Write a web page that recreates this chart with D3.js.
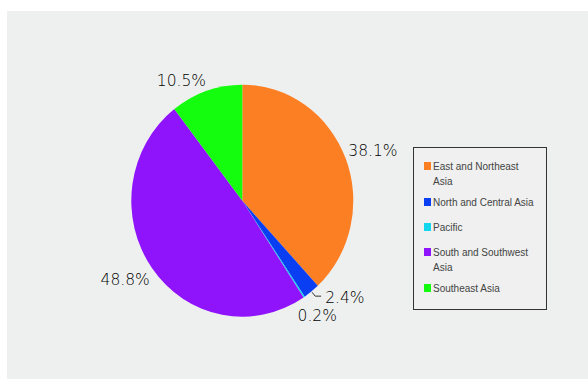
<!DOCTYPE html>
<html>
<head>
<meta charset="utf-8">
<script src="https://cdn.jsdelivr.net/npm/d3@7"></script>
<style>
  body { margin: 0; background: #fff; }
  svg { display: block; }
</style>
</head>
<body>
<div id="container"></div>
<script>
/* DATA */
const regions = ["East and Northeast Asia", "North and Central Asia", "Pacific", "South and Southwest Asia", "Southeast Asia"];
const shares = [38.1, 2.4, 0.2, 48.8, 10.5];
const colors = ["#fd7f23", "#0a3ef2", "#12d6ee", "#8f14fc", "#14fd0e"];
const legendLines = [["East and Northeast", "Asia"], ["North and Central Asia"], ["Pacific"], ["South and Southwest", "Asia"], ["Southeast Asia"]];

/* CONSTANTS */
const width = 588, height = 379;
const cx = 242.3, cy = 200.7, rx = 111, ry = 116;

const svg = d3.select("#container")
  .append("svg")
  .attr("width", width)
  .attr("height", height);

// panel background
svg.append("rect")
  .attr("x", 7).attr("y", 11)
  .attr("width", width - 7).attr("height", height - 11)
  .attr("fill", "#eef0ef");

const data = regions.map((r, i) => ({ region: r, value: shares[i], color: colors[i] }));

const pie = d3.pie().sort(null).value(d => d.value);
const arcs = pie(data);
const arc = d3.arc().innerRadius(0).outerRadius(rx);

// pie, slightly taller than wide
const g = svg.append("g")
  .attr("transform", `translate(${cx},${cy}) scale(1,${ry / rx})`);

g.selectAll("path.slice")
  .data(arcs)
  .join("path")
  .attr("class", "slice")
  .attr("d", arc)
  .attr("fill", d => d.data.color);

// labels
const mid = d => (d.startAngle + d.endAngle) / 2;
const labels = svg.append("g")
  .attr("font-family", "'DejaVu Sans', sans-serif")
  .attr("font-weight", 200)
  .attr("font-size", 15.5)
  .attr("fill", "#000");

arcs.forEach(d => {
  const a = mid(d);
  const s = Math.sin(a), c = Math.cos(a);
  const txt = d.data.value.toFixed(1) + "%";
  const t = labels.append("text")
    .attr("dy", "0.35em")
    .attr("text-anchor", "middle")
    .text(txt);
  const w = t.node().getComputedTextLength(), h = 14;
  if (d.data.region === "North and Central Asia") {
    // pulled out with a leader line
    const p0 = [cx + (rx + 1) * s, cy - (ry + 1) * c];
    const p1 = [cx + (rx + 6) * s, cy - (ry + 6) * c];
    const p2 = [p1[0] + 6, p1[1]];
    svg.append("path")
      .attr("d", d3.line()([p0, p1, p2]))
      .attr("fill", "none")
      .attr("stroke", "#333")
      .attr("stroke-width", 1);
    t.attr("text-anchor", "start")
      .attr("x", p2[0] + 4)
      .attr("y", p2[1] + 1);
  } else if (d.data.value < 1) {
    // tiny slice: straight out along the radius
    t.attr("x", cx + 140 * s - 3).attr("y", cy - 140 * c - 1);
  } else {
    // box sits just outside the rim
    t.attr("x", cx + (rx + 4) * s + Math.sign(s) * (w / 2 - 1))
      .attr("y", cy - (ry + 5) * c - Math.sign(c) * h / 2 + 1.5);
  }
});

// legend
const legend = svg.append("g");
legend.append("rect")
  .attr("x", 413.5).attr("y", 147.5)
  .attr("width", 133).attr("height", 162)
  .attr("fill", "#eff0ef")
  .attr("stroke", "#333")
  .attr("stroke-width", 1);

let yPos = 166;
data.forEach((d, i) => {
  const lines = legendLines[i];
  const item = legend.append("g").attr("transform", `translate(424,${yPos})`);
  item.append("rect")
    .attr("x", 0).attr("y", -4)
    .attr("width", 7).attr("height", 8)
    .attr("fill", d.color);
  const t = item.append("text")
    .attr("font-family", "'Liberation Sans', Arial, sans-serif")
    .attr("font-size", 10)
    .attr("fill", "#444");
  lines.forEach((ln, j) => {
    t.append("tspan")
      .attr("x", 9)
      .attr("y", j * 15.5)
      .attr("dy", "0.35em")
      .text(ln);
  });
  yPos += 14 + 11 * lines.length;
});
</script>
</body>
</html>
